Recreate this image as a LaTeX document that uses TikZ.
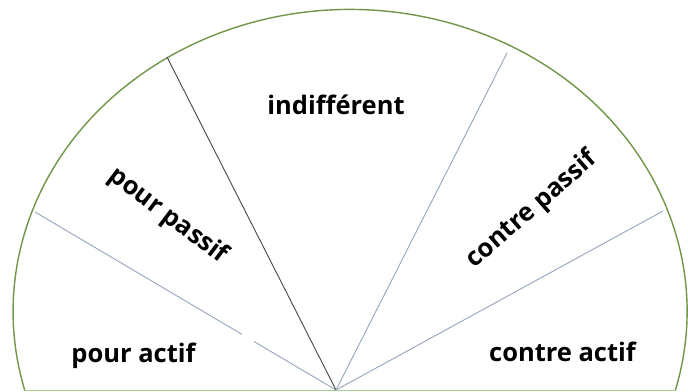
\documentclass[tikz,border=0pt]{standalone}
\usepackage{fontspec}
\setmainfont{Open Sans}
\definecolor{arcgreen}{RGB}{112,150,72}
\definecolor{basegreen}{RGB}{170,210,140}
\definecolor{spokeblue}{RGB}{150,165,190}
\definecolor{spokedark}{RGB}{70,70,75}
\tikzset{
  rim/.style={draw=arcgreen, line width=1.4pt},
  spoke/.style={draw=spokeblue, line width=0.9pt},
  darkspoke/.style={draw=spokedark, line width=0.9pt},
  lbl/.style={inner sep=0pt, font=\fontsize{25.5}{30}\selectfont\bfseries, text=black}
}
\begin{document}
\begin{tikzpicture}[x=1pt,y=1pt]
\useasboundingbox (0,0) rectangle (688,391);
\fill[white] (0,0) rectangle (688,391);
% rim
\coordinate (bl) at (24.7,0.5);
\coordinate (br) at (675.3,0.5);
\draw[rim] (br) arc[start angle=-15.17, end angle=195.17, x radius=337, y radius=302];
\draw[draw=basegreen, line width=1.4pt] (bl) -- (br);
% spokes
\coordinate (hub) at (336,1);
\coordinate (s1) at (35,179);
\coordinate (g1) at (242,56.6);
\coordinate (g2) at (254,49.5);
\coordinate (s2) at (167,334);
\coordinate (s3) at (507,338);
\coordinate (s4) at (663,180);
\draw[spoke] (s1) -- (g1);
\draw[spoke] (g2) -- (hub);
\draw[darkspoke] (s2) -- (hub);
\draw[spoke] (s3) -- (hub);
\draw[spoke] (s4) -- (hub);
% labels
\node[lbl, anchor=base] (ind) at (336,276) {indifférent};
\node[lbl, anchor=base] (pa) at (133.5,28) {pour actif};
\node[lbl, anchor=base] (ca) at (562.5,30) {contre actif};
\node[lbl, rotate=-37] (pp) at (168,175) {pour passif};
\node[lbl, rotate=41] (cp) at (532,181) {contre passif};
\end{tikzpicture}
\end{document}
